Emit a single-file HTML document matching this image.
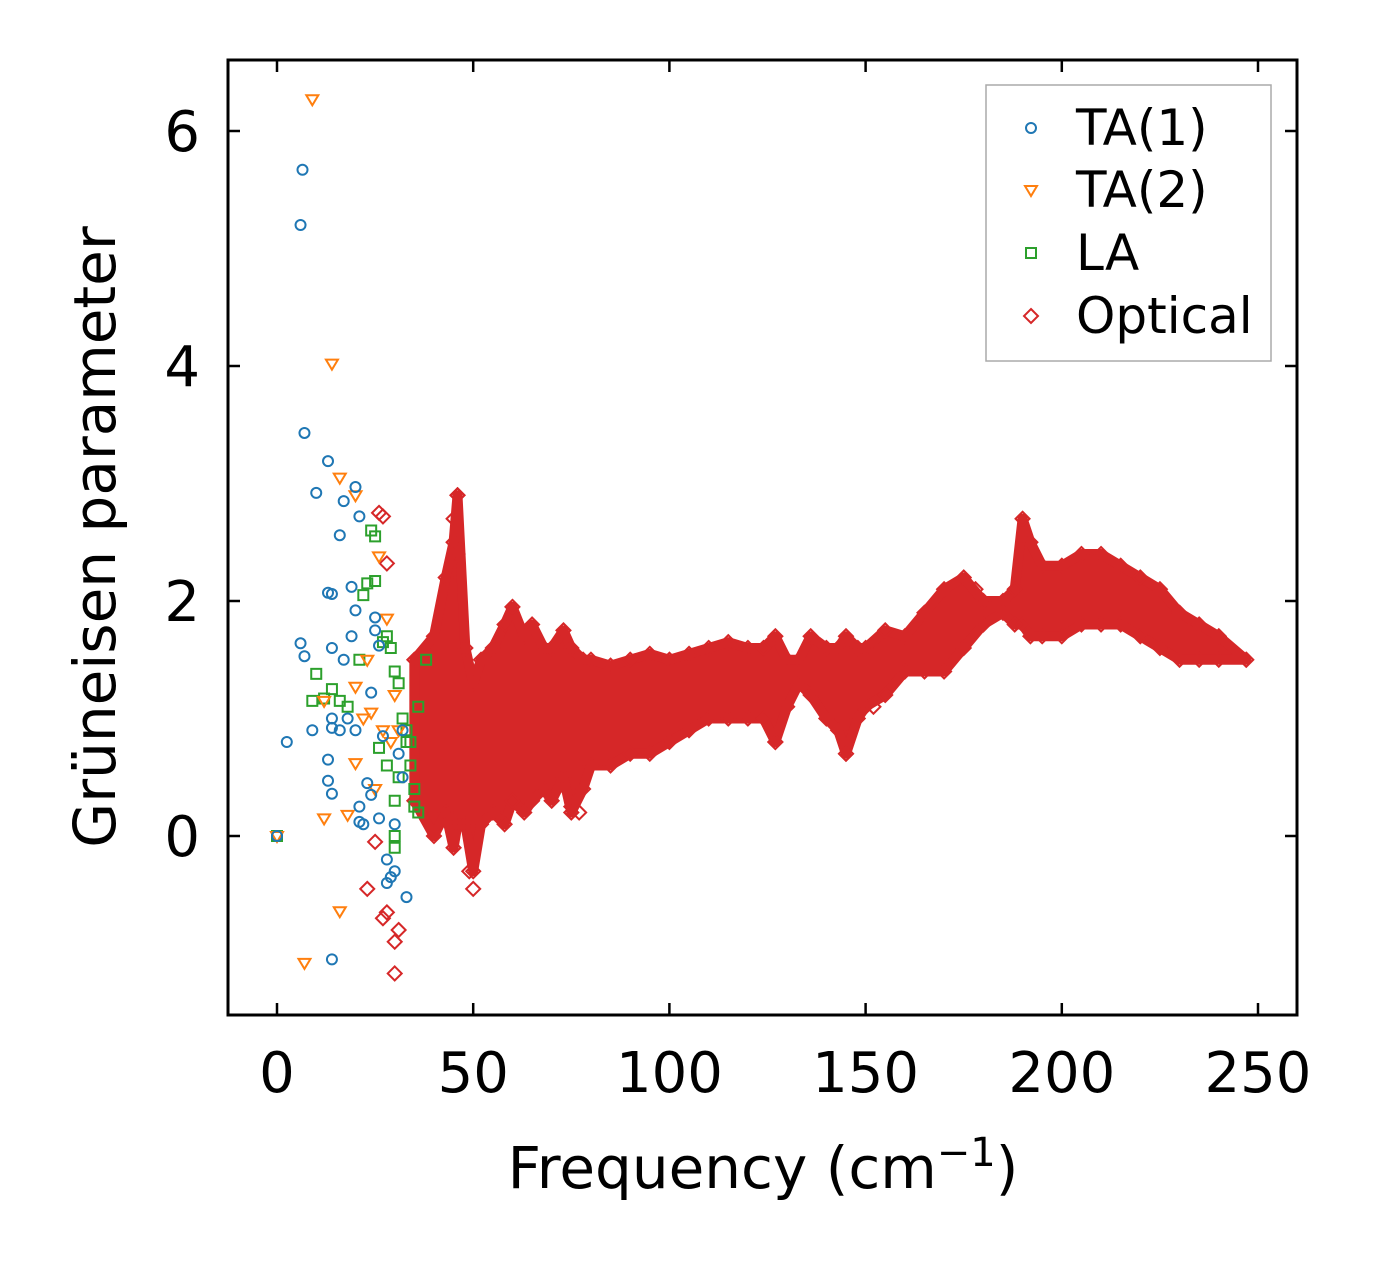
<!DOCTYPE html>
<html><head><meta charset="utf-8">
<style>
html,body{margin:0;padding:0;background:#fff;}
svg{display:block;font-family:"DejaVu Sans","Liberation Sans",sans-serif;}
</style></head>
<body>
<svg id="chart" width="1375" height="1264" viewBox="0 0 1375 1264">
<g id="plot"></g>
<rect x="228" y="60" width="1069" height="955" fill="none" stroke="#000" stroke-width="3"/>
<g id="ticks"></g>
<text x="763" y="1188" font-size="58" text-anchor="middle">Frequency (cm<tspan dy="-22" font-size="40">−1</tspan><tspan dy="22">)</tspan></text>
<text transform="translate(115,537) rotate(-90)" font-size="58" text-anchor="middle">Grüneisen parameter</text>
<g>
<rect x="986" y="85" width="285" height="276" fill="#fff" stroke="#aaa" stroke-width="1.5"/>
<g><circle cx="1031" cy="128" r="5" fill="none" stroke="#1f77b4" stroke-width="2"/><text x="1076" y="145" font-size="50">TA(1)</text></g>
<g><path d="M1025,186 L1037,186 L1031,196 Z" fill="none" stroke="#ff7f0e" stroke-width="2"/><text x="1076" y="207" font-size="50">TA(2)</text></g>
<g><rect x="1026" y="248" width="10" height="10" fill="none" stroke="#2ca02c" stroke-width="2"/><text x="1076" y="270" font-size="50">LA</text></g>
<g><path d="M1031,309 L1038,316 L1031,323 L1024,316 Z" fill="none" stroke="#d62728" stroke-width="2"/><text x="1076" y="333" font-size="50">Optical</text></g>
</g>
</svg>
<script>
const xTicks=[0,50,100,150,200,250];
const yTicks=[0,2,4,6];
const ta1=[[0,0],[2.5,0.8],[6,5.2],[6.5,5.67],[7,3.43],[6,1.64],[7,1.53],[10,2.92],[13,3.19],[13,2.07],[14,2.06],[14,1.6],[9,0.9],[14,1.0],[14,0.92],[13,0.65],[13,0.47],[14,0.36],[14,-1.05],[16,2.56],[17,2.85],[19,2.12],[20,2.97],[21,2.72],[20,1.92],[19,1.7],[17,1.5],[18,1.0],[16,0.9],[20,0.9],[21,0.25],[21,0.12],[22,0.1],[23,0.45],[24,0.35],[24,1.22],[25,1.86],[25,1.75],[26,1.62],[27,0.85],[28,-0.2],[28,-0.4],[29,-0.35],[30,0.1],[31,0.7],[32,0.5],[33,-0.52],[30,-0.3],[32,0.9],[26,0.15]];
const ta2=[[0,0],[7,-1.08],[9,6.27],[14,4.02],[16,3.05],[12,1.15],[12,0.15],[16,-0.64],[18,0.18],[20,0.62],[20,1.27],[22,1.0],[24,1.05],[26,2.38],[27,0.9],[28,1.85],[29,0.8],[30,1.2],[25,0.4],[31,0.9],[20,2.9],[23,1.5]];
const la=[[0,0],[9,1.15],[10,1.38],[12,1.17],[14,1.25],[16,1.15],[18,1.1],[21,1.5],[22,2.05],[23,2.15],[24,2.6],[25,2.17],[25,2.55],[27,1.65],[28,1.7],[29,1.6],[30,1.4],[31,1.3],[32,1.0],[33,0.8],[34,0.6],[35,0.4],[35,0.25],[36,0.2],[30,0.0],[30,-0.1],[33,0.9],[36,1.1],[38,1.5],[26,0.75],[28,0.6],[30,0.3],[31,0.5],[34,0.8]];
const optFreq=[35,40,43,45,46,48,50,52,55,58,60,63,65,68,70,73,75,78,80,85,90,95,100,105,110,115,120,124,127,130,133,136,140,143,145,148,150,155,160,165,170,175,180,185,188,190,192,195,200,205,210,215,220,225,230,235,240,247];
const optLow=[0.3,0.0,0.2,-0.1,0.1,0.1,-0.3,0.1,0.2,0.1,0.3,0.2,0.3,0.4,0.3,0.5,0.2,0.4,0.6,0.6,0.7,0.7,0.8,0.9,1.0,1.0,1.0,1.0,0.8,1.1,1.3,1.2,1.0,0.9,0.7,1.0,1.1,1.2,1.4,1.4,1.4,1.6,1.8,1.9,1.8,1.8,1.7,1.7,1.7,1.8,1.8,1.8,1.7,1.6,1.5,1.5,1.5,1.5];
const optHigh=[1.5,1.7,2.2,2.5,2.9,1.6,1.3,1.5,1.6,1.8,1.95,1.7,1.8,1.6,1.6,1.75,1.6,1.5,1.5,1.45,1.5,1.55,1.5,1.55,1.6,1.65,1.6,1.6,1.7,1.5,1.5,1.7,1.6,1.6,1.7,1.6,1.6,1.75,1.7,1.9,2.1,2.2,2.0,2.0,2.1,2.7,2.5,2.3,2.3,2.4,2.4,2.3,2.2,2.1,1.9,1.8,1.7,1.5];
const optOutliers=[[30,-1.17],[30,-0.9],[31,-0.8],[28,-0.65],[27,-0.7],[23,-0.45],[25,-0.05],[28,2.32],[27,2.72],[26,2.75],[46,2.9],[45,2.7],[50,-0.45],[49,-0.3],[46,2.4],[75,0.25],[77,0.2],[127,0.8],[145,0.7],[152,1.1],[178,2.1]];

const X=v=>277+v*3.924;
const Y=v=>836-v*117.5;
const NS='http://www.w3.org/2000/svg';
const plot=document.getElementById('plot');
const ticks=document.getElementById('ticks');
function mk(tag,attrs,parent){const e=document.createElementNS(NS,tag);for(const k in attrs)e.setAttribute(k,attrs[k]);parent.appendChild(e);return e;}

xTicks.forEach(t=>{
  const x=X(t);
  const g=mk('g',{},ticks);
  
  
  mk('line',{x1:x,y1:1015,x2:x,y2:1003,stroke:'#000','stroke-width':2.5},g);
  mk('line',{x1:x,y1:60,x2:x,y2:72,stroke:'#000','stroke-width':2.5},g);
  const tx=mk('text',{x:x,y:1092,'font-size':56,'text-anchor':'middle'},g);
  tx.textContent=t;
});
yTicks.forEach(t=>{
  const y=Y(t);
  const g=mk('g',{},ticks);
  
  
  mk('line',{x1:228,y1:y,x2:240,y2:y,stroke:'#000','stroke-width':2.5},g);
  mk('line',{x1:1297,y1:y,x2:1285,y2:y,stroke:'#000','stroke-width':2.5},g);
  const tx=mk('text',{x:200,y:y+20,'font-size':56,'text-anchor':'end'},g);
  tx.textContent=t;
});

let pts=[];
optFreq.forEach((f,i)=>pts.push(X(f)+','+Y(optHigh[i])));
for(let i=optFreq.length-1;i>=0;i--)pts.push(X(optFreq[i])+','+Y(optLow[i]));
const band=mk('polygon',{points:pts.join(' '),fill:'#d62728',stroke:'#d62728','stroke-width':10,'stroke-linejoin':'round'},plot);



function diamond(f,v){
  const x=X(f),y=Y(v);
  const d=mk('path',{d:`M${x},${y-7} L${x+7},${y} L${x},${y+7} L${x-7},${y} Z`,fill:'none',stroke:'#d62728','stroke-width':2},plot);
  
  
}
optFreq.forEach((f,i)=>{diamond(f,optHigh[i]);diamond(f,optLow[i]);});
optOutliers.forEach(p=>diamond(p[0],p[1]));

la.forEach(p=>{
  const r=mk('rect',{x:X(p[0])-5,y:Y(p[1])-5,width:10,height:10,fill:'none',stroke:'#2ca02c','stroke-width':2},plot);
  
  
});
ta2.forEach(p=>{
  const x=X(p[0]),y=Y(p[1]);
  const t=mk('path',{d:`M${x-6},${y-4} L${x+6},${y-4} L${x},${y+6} Z`,fill:'none',stroke:'#ff7f0e','stroke-width':2},plot);
  
  
});
ta1.forEach(p=>{
  const c=mk('circle',{cx:X(p[0]),cy:Y(p[1]),r:5,fill:'none',stroke:'#1f77b4','stroke-width':2},plot);
  
  
});
</script>
</body></html>
